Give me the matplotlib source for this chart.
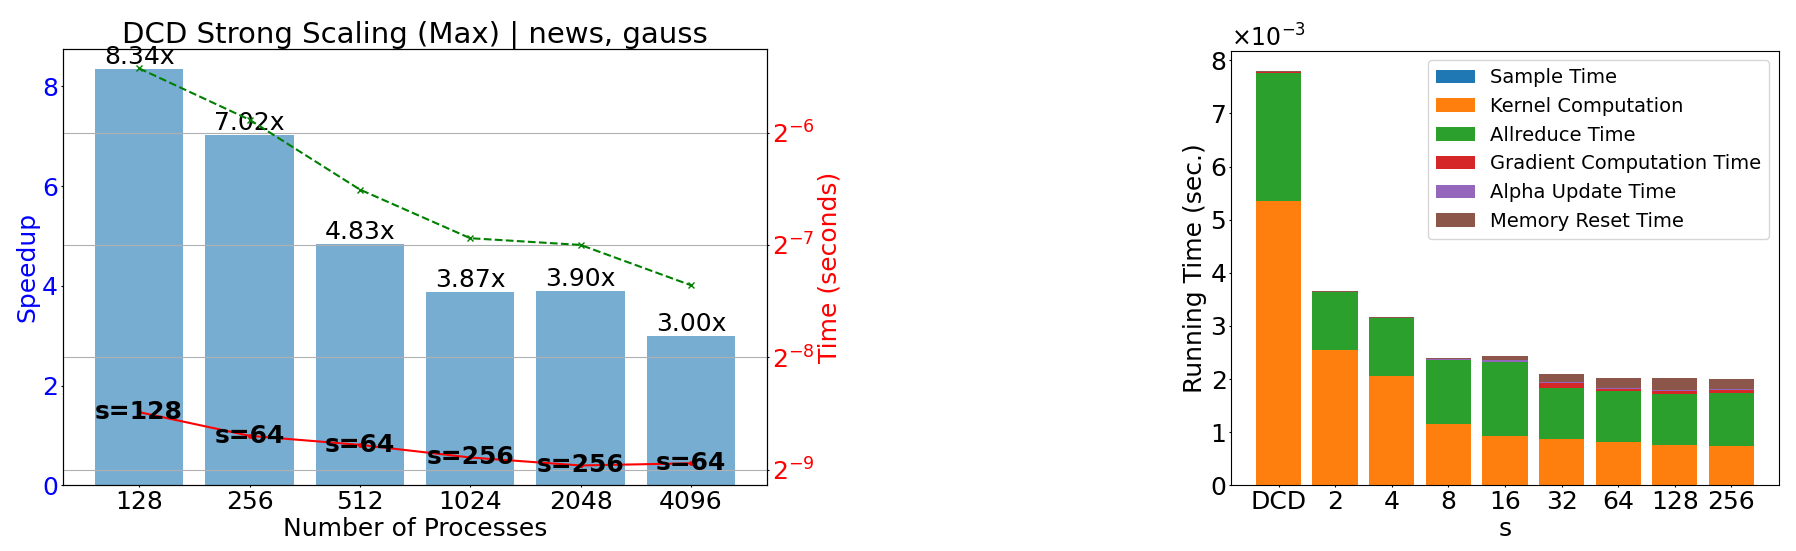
import matplotlib
matplotlib.use("Agg")
import matplotlib.pyplot as plt
from matplotlib.ticker import MultipleLocator
import numpy as np

# --- panel izquierdo: strong scaling ---
procs = ["128", "256", "512", "1024", "2048", "4096"]
speedup = [8.34, 7.02, 4.83, 3.87, 3.90, 3.00]
best_s = [128, 64, 64, 256, 256, 64]
dcd_time = [0.02321, 0.01691, 0.01099, 0.00814, 0.00781, 0.00609]   # seg
ca_time = [0.002783, 0.002405, 0.002275, 0.002104, 0.002003, 0.002030]

# --- panel derecho: desglose por s (x1e-3 seg) ---
s_labels = ["DCD", "2", "4", "8", "16", "32", "64", "128", "256"]
sample_t = [0.002, 0.002, 0.002, 0.002, 0.002, 0.002, 0.002, 0.002, 0.002]
kernel_t = [5.345, 2.541, 2.053, 1.151, 0.927, 0.874, 0.814, 0.761, 0.741]
allreduce_t = [2.424, 1.087, 1.093, 1.200, 1.393, 0.957, 0.955, 0.958, 0.990]
gradient_t = [0.003, 0.005, 0.004, 0.006, 0.006, 0.088, 0.037, 0.050, 0.069]
alpha_t = [0.002, 0.012, 0.003, 0.013, 0.025, 0.025, 0.025, 0.019, 0.006]
memreset_t = [0.015, 0.020, 0.015, 0.018, 0.075, 0.144, 0.182, 0.225, 0.194]

FS = 18

# ticks cortos y pegados (la figura original venia reescalada)
plt.rcParams.update({
    "xtick.major.size": 1.75,
    "ytick.major.size": 1.75,
    "xtick.major.pad": 1.75,
    "ytick.major.pad": 1.75,
    "axes.labelpad": 2,
    "axes.titlepad": 3,
})

fig = plt.figure(figsize=(17.96, 5.51), dpi=100)

# ---------------- izquierda ----------------
ax = fig.add_axes([0.0351, 0.1192, 0.392, 0.7927])
x = np.arange(len(procs))
ax.bar(x, speedup, width=0.8, color="tab:blue", alpha=0.6)
for i, v in enumerate(speedup):
    ax.text(i, v, f"{v:.2f}x", ha="center", va="bottom", fontsize=FS)
ax.set_xticks(x)
ax.set_xticklabels(procs, fontsize=FS)
ax.set_xlabel("Number of Processes", fontsize=FS)
ax.set_ylabel("Speedup", color="blue", fontsize=FS)
ax.tick_params(axis="y", labelcolor="blue", labelsize=FS)
ax.set_title("DCD Strong Scaling (Max) | news, gauss", fontsize=21)

tw = ax.twinx()
tw.plot(x, dcd_time, color="green", linestyle="--", marker="x",
        markersize=4, linewidth=1.5)
tw.plot(x, ca_time, color="red", marker=".", markersize=5, linewidth=1.5)
for i, (t, s) in enumerate(zip(ca_time, best_s)):
    tw.text(i, t, f"s={s}", ha="center", va="center", fontsize=FS,
            fontweight="bold")
tw.set_yscale("log", base=2)
tw.grid(True, axis="y", color="#b0b0b0", linewidth=0.8)
tw.set_ylabel("Time (seconds)", color="red", fontsize=FS)
tw.tick_params(axis="y", labelcolor="red", labelsize=FS)

# ---------------- derecha ----------------
ax2 = fig.add_axes([0.6854, 0.1192, 0.3051, 0.7887])
xs = np.arange(len(s_labels))
series = [
    (sample_t, "Sample Time", "tab:blue"),
    (kernel_t, "Kernel Computation", "tab:orange"),
    (allreduce_t, "Allreduce Time", "tab:green"),
    (gradient_t, "Gradient Computation Time", "tab:red"),
    (alpha_t, "Alpha Update Time", "tab:purple"),
    (memreset_t, "Memory Reset Time", "tab:brown"),
]
bottom = np.zeros(len(s_labels))
for vals, lab, col in series:
    v = np.array(vals) * 1e-3
    ax2.bar(xs, v, width=0.8, bottom=bottom, color=col, label=lab)
    bottom += v
ax2.set_xticks(xs)
ax2.set_xticklabels(s_labels, fontsize=FS)
ax2.yaxis.set_major_locator(MultipleLocator(1e-3))
ax2.ticklabel_format(axis="y", style="sci", scilimits=(0, 0), useMathText=True)
ax2.tick_params(axis="y", labelsize=FS)
ax2.yaxis.get_offset_text().set_fontsize(17)
ax2.set_xlabel("s", fontsize=FS)
ax2.set_ylabel("Running Time (sec.)", fontsize=FS)
ax2.legend(loc="upper right", fontsize=14)

fig.savefig("out.png", dpi=100, facecolor="white")
